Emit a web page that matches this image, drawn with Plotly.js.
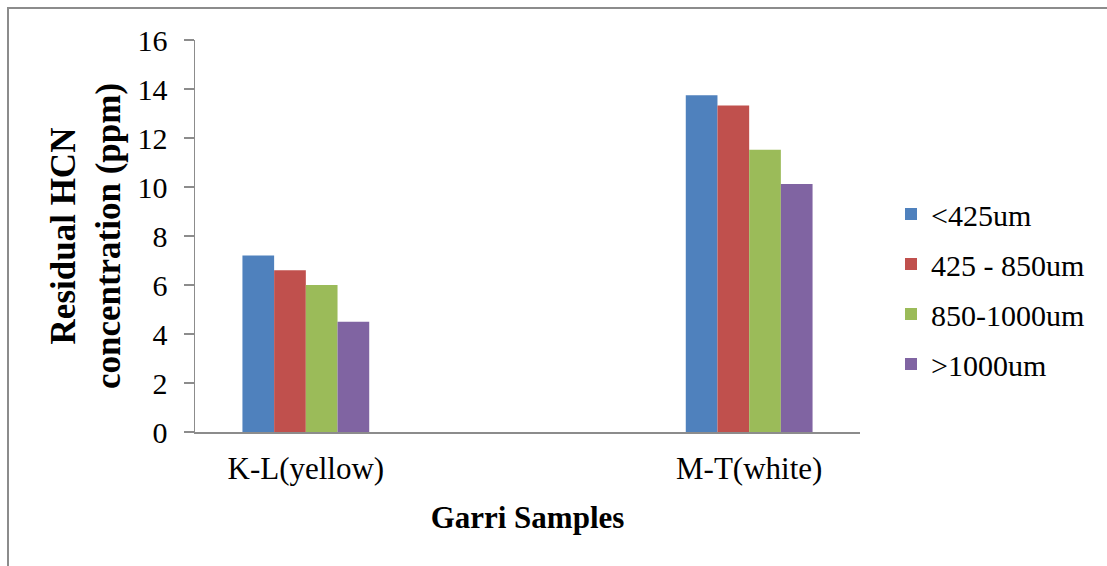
<!DOCTYPE html>
<html>
<head>
<meta charset="utf-8">
<script src="https://cdn.plot.ly/plotly-3.0.1.min.js"></script>
<style>html,body{margin:0;padding:0;background:#fff;}#chart{width:1107px;height:566px;}</style>
</head>
<body>
<div id="chart"></div>
<script>
const categories = ["K-L(yellow)", "M-T(white)"];
const seriesNames = ["<425um", "425 - 850um", "850-1000um", ">1000um"];
const lt425 = [7.2, 13.75];
const s425to850 = [6.6, 13.33];
const s850to1000 = [6.0, 11.52];
const gt1000 = [4.5, 10.12];
const yTicks = [0, 2, 4, 6, 8, 10, 12, 14, 16];

const colors = ["#4F81BD", "#C0504D", "#9BBB59", "#8064A2"];
const values = [lt425, s425to850, s850to1000, gt1000];
const serif = "Liberation Serif";

const traces = values.map((v, i) => ({
  type: "bar",
  name: seriesNames[i],
  x: [0, 1],
  y: v,
  legendgroup: "g" + i,
  marker: {color: colors[i]},
  hoverinfo: "y"
}));

const L = 195, R = 860, T = 40, B = 432;
const px2x = p => (p - L) / (R - L);
const px2y = p => (B - p) / (B - T);

const layout = {
  width: 1107, height: 566,
  margin: {l: L, r: 1107 - R, t: T, b: 566 - B, pad: 0},
  paper_bgcolor: "#fff", plot_bgcolor: "#fff",
  font: {family: serif, color: "#000"},
  showlegend: true,
  barmode: "group",
  bargap: 0.714,
  bargroupgap: 0,
  xaxis: {
    range: [-0.25, 1.25],
    tickmode: "array", tickvals: [0, 1], ticktext: categories,
    ticks: "", showgrid: false, zeroline: false,
    showline: true, linecolor: "#8c8c8c", linewidth: 1.5,
    tickfont: {size: 31, family: serif},
    ticklabelstandoff: 8,
    title: {text: "<b>Garri Samples</b>", font: {size: 31, family: serif}, standoff: 21}
  },
  yaxis: {
    range: [0, 16], tickmode: "array", tickvals: yTicks,
    ticks: "outside", ticklen: 10, tickwidth: 1.5, tickcolor: "#8c8c8c",
    showgrid: false, zeroline: false,
    showline: true, linecolor: "#8c8c8c", linewidth: 1.5,
    tickfont: {size: 30, family: serif},
    ticklabelstandoff: 10,
    title: {text: "<b>Residual HCN<br>concentration (ppm)</b>", font: {size: 35, family: serif}, standoff: 6}
  },
  legend: {
    x: px2x(891), xanchor: "left",
    y: px2y(289), yanchor: "middle",
    font: {size: 30, family: serif, color: "#000"},
    traceorder: "grouped", tracegroupgap: 8,
    bgcolor: "rgba(0,0,0,0)"
  },
  shapes: [{
    type: "rect", xref: "paper", yref: "paper",
    x0: px2x(8), x1: px2x(1112), y0: px2y(8), y1: px2y(572),
    line: {color: "#8c8c8c", width: 2}, fillcolor: "rgba(0,0,0,0)", layer: "below"
  }]
};

Plotly.newPlot("chart", traces, layout, {displayModeBar: false, staticPlot: true});
</script>
</body>
</html>
